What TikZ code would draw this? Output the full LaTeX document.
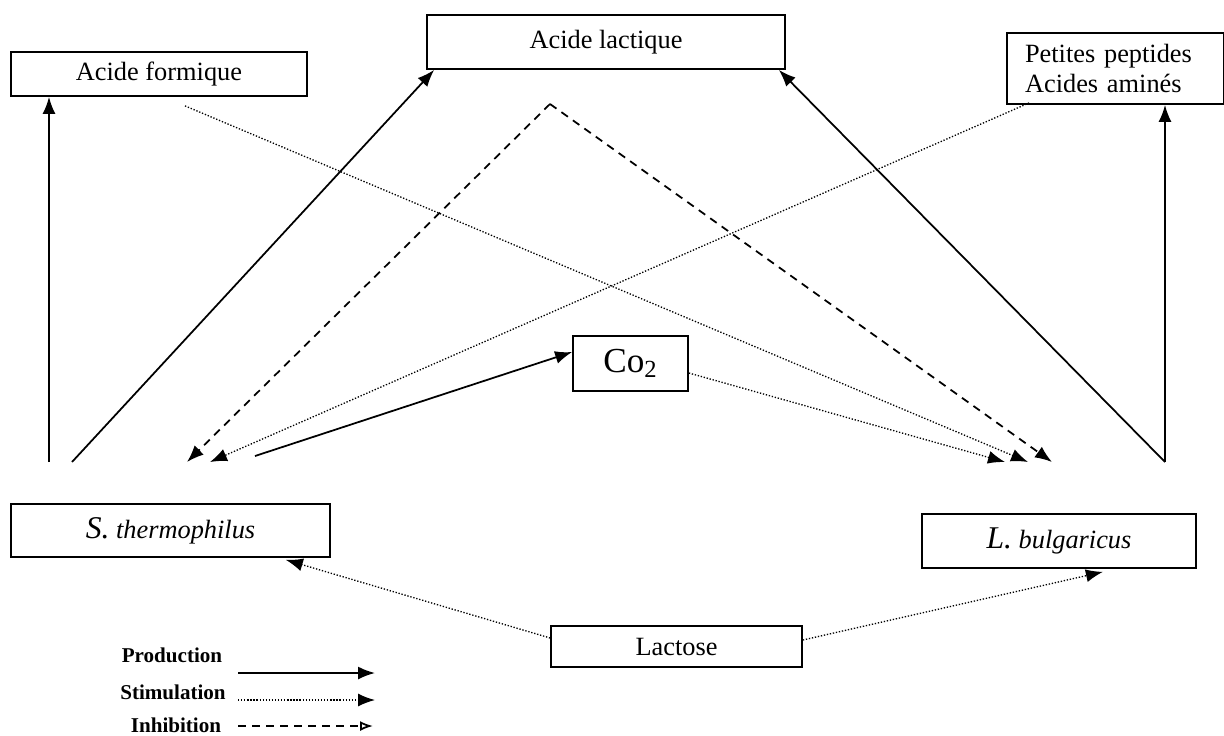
\documentclass[tikz,border=0pt]{standalone}
\usepackage{fontspec}
\setmainfont{Liberation Serif}
\usetikzlibrary{arrows.meta}

\tikzset{
    box/.style={draw, line width=1pt, inner sep=0pt, font=\fontsize{15}{17}\selectfont},
    prod/.style={-{Latex[length=0.34cm,width=0.26cm]}, line width=1pt},
    stim/.style={-{Latex[length=0.34cm,width=0.26cm]}, line width=0.75pt, dash pattern=on 0.75pt off 1pt},
    inhib/.style={-{Latex[length=0.34cm,width=0.26cm]}, line width=1pt, dash pattern=on 4.5pt off 3.5pt},
    legtxt/.style={font=\fontsize{12}{14}\selectfont\bfseries}
}

\begin{document}
\begin{tikzpicture}[x=0.02cm, y=-0.02cm]
    \useasboundingbox (0,0) rectangle (1224,735);

    % boxes
    \node[box, minimum width=5.92cm, minimum height=0.88cm] (formique) at (159,74) {Acide formique};
    \node[box, minimum width=7.16cm, minimum height=1.08cm] (lactique) at (606,42) {Acide lactique};
    \node[box, align=left, text width=3.62cm, inner xsep=0.36cm, minimum height=1.42cm] (peptides) at (1115.5,68.5) {Petites peptides\\Acides amin\'es};
    \node[box, minimum width=2.3cm, minimum height=1.1cm, font=\fontsize{20}{24}\selectfont] (co2) at (630.5,363.5) {Co\textsubscript{2}};
    \node[box, minimum width=6.38cm, minimum height=1.06cm] (sth) at (170.5,530.5) {\itshape{\fontsize{18}{20}\selectfont S.} thermophilus};
    \node[box, minimum width=5.48cm, minimum height=1.08cm] (lbu) at (1059,541) {\itshape{\fontsize{18}{20}\selectfont L.} bulgaricus};
    \node[box, minimum width=5.02cm, minimum height=0.82cm] (lactose) at (676.5,646.5) {Lactose};

    % free ends
    \coordinate (sthA) at (49,462);
    \coordinate (sthB) at (72,462);
    \coordinate (sthC) at (255,456);
    \coordinate (sthD) at (187,462);
    \coordinate (sthE) at (210,462);
    \coordinate (lbuA) at (1165,462);
    \coordinate (lbuB) at (1028,462);
    \coordinate (lbuC) at (1005,462);
    \coordinate (lbuD) at (1052,462);
    \coordinate (inh) at (550,104);

    % production
    \draw[prod] (sthA) -- (sthA |- formique.south);
    \draw[prod] (sthB) -- ([xshift=0.16cm]lactique.south west);
    \draw[prod] (sthC) -- ([yshift=0.23cm]co2.west);
    \draw[prod] (lbuA) -- ([xshift=-0.14cm]lactique.south east);
    \draw[prod] (lbuA) -- (lbuA |- peptides.south);

    % inhibition
    \draw[inhib] (inh) -- (sthD);
    \draw[inhib] (inh) -- (lbuD);

    % stimulation
    \draw[stim] ([shift={(0.52cm,-0.18cm)}]formique.south) -- (lbuB);
    \draw[stim] ([shift={(0.46cm,0.04cm)}]peptides.south west) -- (sthE);
    \draw[stim] ([yshift=-0.19cm]co2.east) -- (lbuC);
    \draw[stim] ([yshift=0.17cm]lactose.west) -- ([shift={(-0.9cm,-0.04cm)}]sth.south east);
    \draw[stim] ([yshift=0.13cm]lactose.east) -- ([shift={(-1.88cm,-0.06cm)}]lbu.south east);

    % legend
    \node[legtxt] (legprod) at (172,655) {Production};
    \node[legtxt] (legstim) at (173,692) {Stimulation};
    \node[legtxt] (leginh) at (176,725) {Inhibition};
    \coordinate (p1) at (238,673); \coordinate (p2) at (375,673);
    \coordinate (s1) at (238,700); \coordinate (s2) at (375,700);
    \coordinate (i1) at (238,726); \coordinate (i2) at (373,726);
    \draw[prod] (p1) -- (p2);
    \draw[stim] (s1) -- (s2);
    \draw[inhib, -{Latex[open,length=0.26cm,width=0.2cm]}] (i1) -- (i2);
\end{tikzpicture}
\end{document}
